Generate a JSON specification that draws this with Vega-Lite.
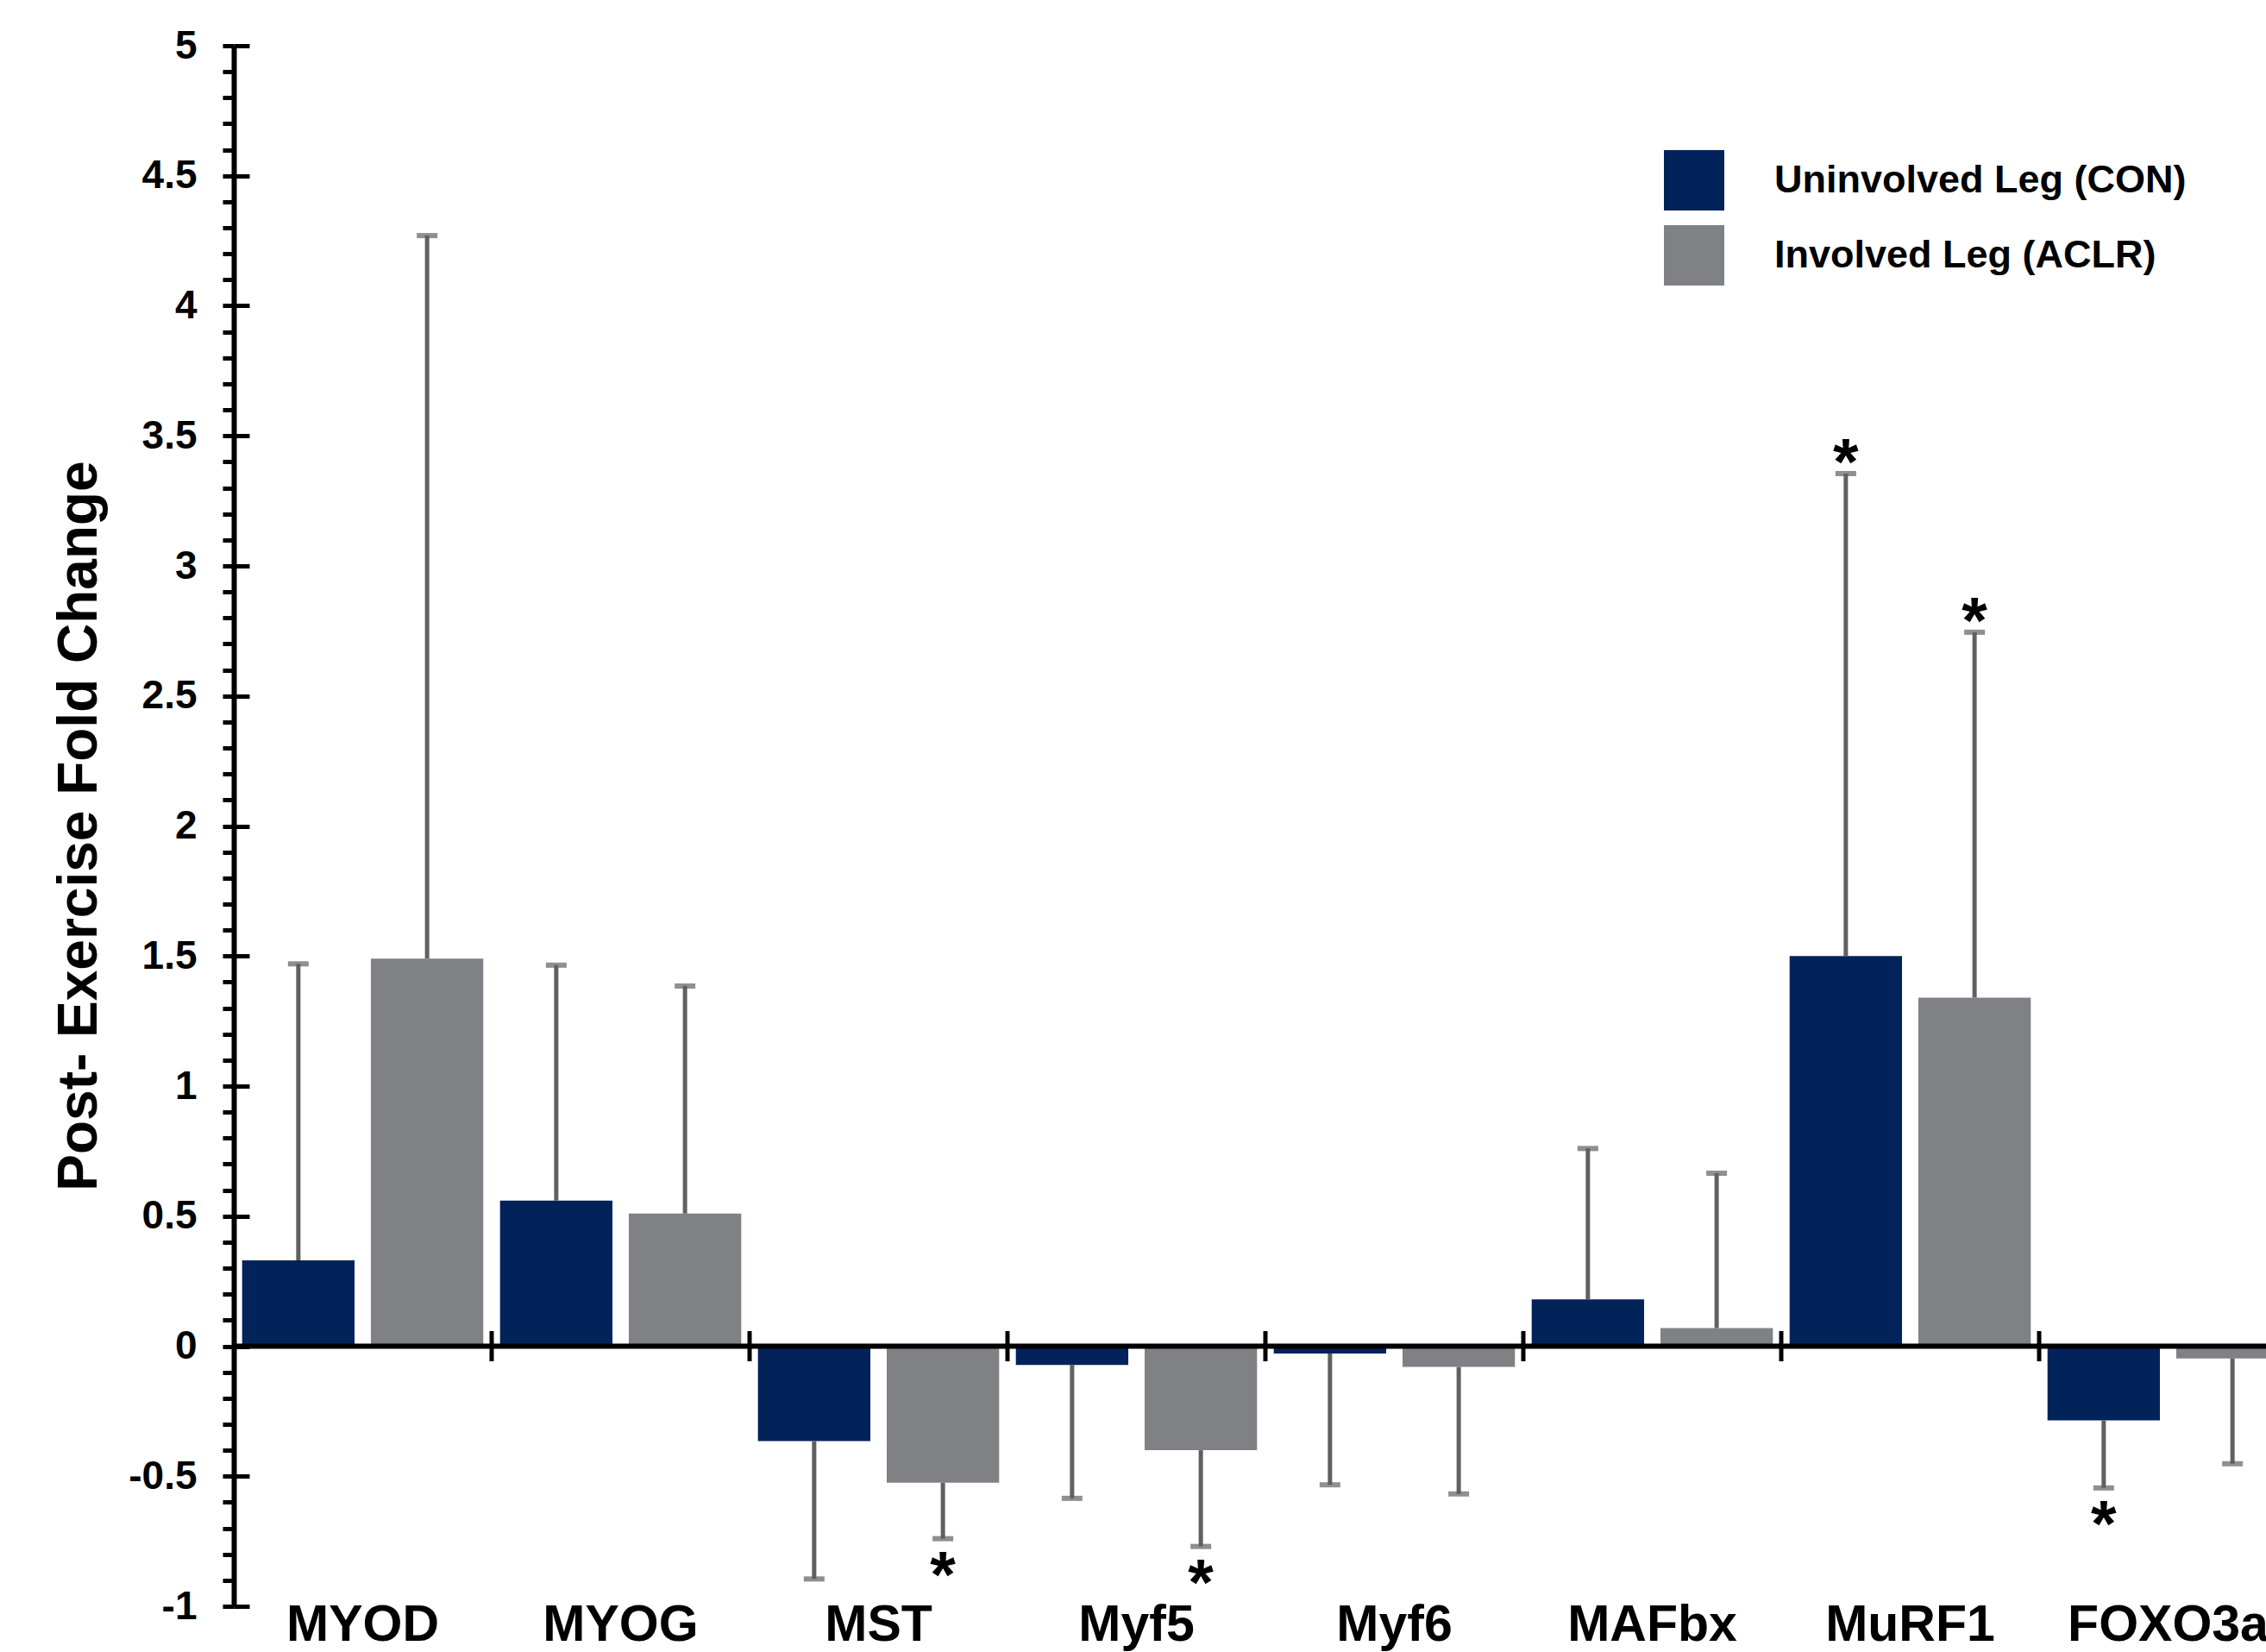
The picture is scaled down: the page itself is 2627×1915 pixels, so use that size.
{
  "$schema": "https://vega.github.io/schema/vega-lite/v6.json",
  "autosize": {"type": "none"},
  "width": 2356,
  "height": 1809,
  "padding": {"left": 271, "top": 53, "right": 0, "bottom": 53},
  "background": "white",
  "config": {"view": {"stroke": null}, "font": "Liberation Sans"},
  "data": {"values": [
    {"gene": "MYOD", "leg": "Uninvolved Leg (CON)", "value": 0.33, "err": 1.47, "sig": false},
    {"gene": "MYOD", "leg": "Involved Leg (ACLR)", "value": 1.49, "err": 4.27, "sig": false},
    {"gene": "MYOG", "leg": "Uninvolved Leg (CON)", "value": 0.56, "err": 1.465, "sig": false},
    {"gene": "MYOG", "leg": "Involved Leg (ACLR)", "value": 0.51, "err": 1.385, "sig": false},
    {"gene": "MST", "leg": "Uninvolved Leg (CON)", "value": -0.365, "err": -0.895, "sig": false},
    {"gene": "MST", "leg": "Involved Leg (ACLR)", "value": -0.525, "err": -0.74, "sig": true},
    {"gene": "Myf5", "leg": "Uninvolved Leg (CON)", "value": -0.072, "err": -0.585, "sig": false},
    {"gene": "Myf5", "leg": "Involved Leg (ACLR)", "value": -0.4, "err": -0.77, "sig": true},
    {"gene": "Myf6", "leg": "Uninvolved Leg (CON)", "value": -0.028, "err": -0.533, "sig": false},
    {"gene": "Myf6", "leg": "Involved Leg (ACLR)", "value": -0.08, "err": -0.568, "sig": false},
    {"gene": "MAFbx", "leg": "Uninvolved Leg (CON)", "value": 0.18, "err": 0.76, "sig": false},
    {"gene": "MAFbx", "leg": "Involved Leg (ACLR)", "value": 0.07, "err": 0.665, "sig": false},
    {"gene": "MuRF1", "leg": "Uninvolved Leg (CON)", "value": 1.5, "err": 3.355, "sig": true},
    {"gene": "MuRF1", "leg": "Involved Leg (ACLR)", "value": 1.34, "err": 2.745, "sig": true},
    {"gene": "FOXO3a", "leg": "Uninvolved Leg (CON)", "value": -0.285, "err": -0.545, "sig": true},
    {"gene": "FOXO3a", "leg": "Involved Leg (ACLR)", "value": -0.047, "err": -0.452, "sig": false}
  ]},
  "layer": [
    {
      "encoding": {
        "x": {
          "field": "gene", "type": "nominal",
          "sort": ["MYOD", "MYOG", "MST", "Myf5", "Myf6", "MAFbx", "MuRF1", "FOXO3a"],
          "scale": {"paddingInner": 0, "paddingOuter": 0, "range": [0, 2392]},
          "axis": {
            "title": null, "domain": false, "ticks": false, "tickSize": 0,
            "labelAngle": 0, "labelFont": "Liberation Sans", "labelFontSize": 59,
            "labelFontWeight": "bold", "labelColor": "black", "labelPadding": 39,
            "labelBaseline": "alphabetic", "labelLimit": 1000, "labelOverlap": false
          }
        },
        "xOffset": {
          "field": "leg", "type": "nominal",
          "sort": ["Uninvolved Leg (CON)", "Involved Leg (ACLR)"],
          "scale": {"paddingInner": 0.127, "paddingOuter": 0.065}
        }
      },
      "layer": [
        {
          "mark": {"type": "bar"},
          "encoding": {
            "y": {
              "field": "value", "type": "quantitative",
              "scale": {"domain": [-1, 5], "nice": false, "zero": false},
              "axis": {
                "title": "Post- Exercise Fold Change",
                "titleFont": "Liberation Sans", "titleFontSize": 64, "titleFontWeight": "bold",
                "titleColor": "black", "titleAngle": 270, "titleX": -160, "titleY": 904,
                "titleAlign": "center", "titleBaseline": "alphabetic", "titleLimit": 3000,
                "values": [-1, -0.5, 0, 0.5, 1, 1.5, 2, 2.5, 3, 3.5, 4, 4.5, 5],
                "labelExpr": "'' + datum.value",
                "labelFont": "Liberation Sans", "labelFontSize": 46, "labelFontWeight": "bold",
                "labelColor": "black", "labelPadding": 30, "labelOverlap": false, "labelFlush": false,
                "labelBaseline": "middle",
                "domainColor": "black", "domainWidth": 6,
                "tickColor": "black", "tickWidth": 5, "tickSize": 13,
                "grid": false
              }
            },
            "color": {
              "field": "leg", "type": "nominal",
              "scale": {"domain": ["Uninvolved Leg (CON)", "Involved Leg (ACLR)"], "range": ["#02225a", "#808185"]},
              "legend": {
                "orient": "none", "legendX": 1658, "legendY": 121, "title": null,
                "symbolType": "square", "symbolSize": 4900, "symbolStrokeWidth": 0, "symbolOpacity": 1,
                "labelFont": "Liberation Sans", "labelFontSize": 45, "labelFontWeight": "bold",
                "labelColor": "black", "labelOffset": 58, "rowPadding": 17, "padding": 0, "labelLimit": 1000
              }
            }
          }
        },
        {
          "mark": {"type": "rule", "color": "#606060", "strokeWidth": 5},
          "encoding": {
            "y": {"field": "value", "type": "quantitative"},
            "y2": {"field": "err"}
          }
        },
        {
          "mark": {"type": "tick", "color": "#606060", "size": 24, "thickness": 6},
          "encoding": {
            "y": {"field": "err", "type": "quantitative"}
          }
        },
        {
          "transform": [{"filter": "datum.sig && datum.err > 0"}],
          "mark": {"type": "text", "text": "*", "font": "Liberation Sans", "fontSize": 76, "fontWeight": "bold", "baseline": "alphabetic", "dy": 12, "color": "black"},
          "encoding": {
            "y": {"field": "err", "type": "quantitative"}
          }
        },
        {
          "transform": [{"filter": "datum.sig && datum.err < 0"}],
          "mark": {"type": "text", "text": "*", "font": "Liberation Sans", "fontSize": 76, "fontWeight": "bold", "baseline": "alphabetic", "dy": 67, "color": "black"},
          "encoding": {
            "y": {"field": "err", "type": "quantitative"}
          }
        },
        {
          "transform": [{"filter": "datum.leg === 'Uninvolved Leg (CON)' && datum.gene !== 'MYOD'"}],
          "mark": {"type": "rule", "color": "black", "strokeWidth": 5},
          "encoding": {
            "x": {"field": "gene", "type": "nominal", "bandPosition": 0},
            "xOffset": null,
            "y": {"datum": -0.058, "type": "quantitative"},
            "y2": {"datum": 0.058}
          }
        }
      ]
    },
    {
      "data": {"values": [{"z": 0}]},
      "mark": {"type": "rule", "color": "black", "strokeWidth": 6},
      "encoding": {
        "y": {
          "field": "z", "type": "quantitative",
          "scale": {"domain": [-1, 5], "nice": false, "zero": false},
          "axis": {
            "orient": "right", "offset": -2356, "title": null, "domain": false, "labels": false, "grid": false,
            "values": [-1, -0.9, -0.8, -0.7, -0.6, -0.5, -0.4, -0.3, -0.2, -0.1, 0, 0.1, 0.2, 0.3, 0.4, 0.5, 0.6, 0.7, 0.8, 0.9, 1, 1.1, 1.2, 1.3, 1.4, 1.5, 1.6, 1.7, 1.8, 1.9, 2, 2.1, 2.2, 2.3, 2.4, 2.5, 2.6, 2.7, 2.8, 2.9, 3, 3.1, 3.2, 3.3, 3.4, 3.5, 3.6, 3.7, 3.8, 3.9, 4, 4.1, 4.2, 4.3, 4.4, 4.5, 4.6, 4.7, 4.8, 4.9, 5],
            "tickColor": "black", "tickWidth": 5,
            "tickSize": {"condition": {"test": "abs(datum.value * 2 - round(datum.value * 2)) < 0.001", "value": 18}, "value": -13}
          }
        }
      }
    }
  ],
  "resolve": {"scale": {"y": "independent"}}
}
